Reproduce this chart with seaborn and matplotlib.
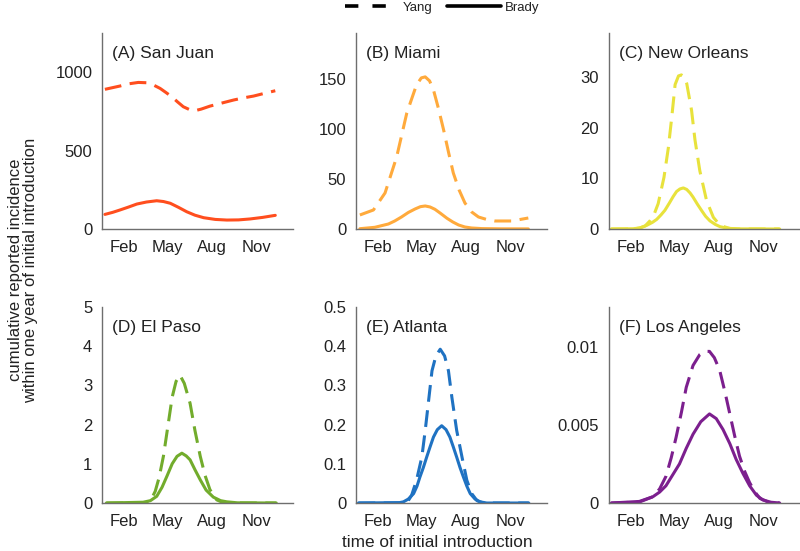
import numpy as np
import pandas as pd
import matplotlib
matplotlib.use("Agg")
import matplotlib.pyplot as plt
from matplotlib.lines import Line2D
import seaborn as sns

# month tick positions (mid-month, day of year) and labels
month_ticks = [46, 135, 227, 319]
month_labels = ["Feb", "May", "Aug", "Nov"]

# (A) San Juan
sj_yang_day = [6, 37, 55, 75, 92, 106, 120, 132, 144, 156, 168, 180, 192, 205, 223,
               248, 272, 293, 313, 335, 358]
sj_yang_val = [890, 911, 925, 934, 932, 918, 896, 870, 843, 810, 779, 762, 754, 764, 783,
               803, 822, 836, 847, 864, 881]
sj_brady_day = [6, 22, 37, 55, 72, 92, 113, 127, 141, 158, 175, 192, 210, 234, 258,
                282, 306, 332, 358]
sj_brady_val = [93, 106, 121, 140, 159, 172, 180, 175, 164, 138, 110, 88, 72, 61, 57,
                58, 64, 74, 87]

# (B) Miami
mi_yang_day = [8, 36, 60, 84, 105, 125, 135, 143, 152, 160, 170, 181, 191, 201, 213,
               225, 239, 253, 270, 287, 322, 356]
mi_yang_val = [14, 19, 36, 72, 116, 144, 151, 152, 148, 139, 121, 99, 77, 56, 39,
               26, 17, 12, 9.5, 8, 8, 11]
mi_brady_day = [8, 39, 67, 80, 94, 108, 122, 133, 143, 153, 163, 175, 188, 200, 212,
                225, 239, 260, 300, 356]
mi_brady_val = [0.3, 1.7, 5, 8, 12, 16.5, 20, 22.3, 23, 22, 19.7, 15.5, 10.7, 7, 4,
                2, 1, 0.4, 0.15, 0.1]

# (C) New Orleans
no_yang_day = [5, 50, 64, 75, 85, 94, 102, 114, 123, 130, 137, 144, 150, 156, 161,
               171, 178, 188, 202, 216, 230, 250, 270, 353]
no_yang_val = [0, 0, 0.2, 0.6, 1.6, 3.0, 5.0, 10.2, 16.0, 22, 28.5, 30.2, 30.4, 30, 28.7,
               23.4, 17.6, 11.5, 5.6, 2.3, 0.7, 0.1, 0, 0]
no_brady_day = [5, 50, 64, 78, 90, 99, 108, 116, 125, 133, 140, 147, 154, 161, 168,
                174, 183, 192, 200, 209, 220, 230, 245, 265, 353]
no_brady_val = [0, 0.05, 0.2, 0.7, 1.3, 1.9, 2.8, 3.7, 5.1, 6.4, 7.4, 7.9, 8.1, 7.8, 7.1,
                6.3, 4.9, 3.6, 2.5, 1.6, 0.9, 0.45, 0.15, 0.03, 0]

# (D) El Paso
ep_yang_day = [9, 92, 100, 110, 118, 127, 136, 145, 153, 161, 170, 182, 192, 203, 213,
               223, 237, 250, 271, 360]
ep_yang_val = [0, 0, 0.05, 0.3, 0.65, 1.2, 1.95, 2.7, 3.1, 3.26, 3.05, 2.54, 1.85, 1.19, 0.7,
               0.34, 0.08, 0.01, 0, 0]
ep_brady_day = [9, 85, 100, 113, 124, 134, 145, 155, 165, 174, 182, 192, 203, 215, 230,
                245, 258, 280, 360]
ep_brady_val = [0, 0.02, 0.06, 0.17, 0.4, 0.68, 1.0, 1.19, 1.27, 1.2, 1.1, 0.85, 0.59, 0.33, 0.15,
                0.06, 0.03, 0.005, 0]

# (E) Atlanta
at_yang_day = [5, 100, 108, 115, 125, 136, 143, 150, 157, 165, 174, 183, 191, 198, 208,
               219, 229, 239, 250, 263, 357]
at_yang_val = [0, 0, 0.006, 0.02, 0.058, 0.117, 0.185, 0.261, 0.337, 0.375, 0.392, 0.375, 0.337,
               0.27, 0.185, 0.117, 0.058, 0.024, 0.006, 0, 0]
at_brady_day = [5, 90, 98, 108, 119, 126, 132, 139, 146, 153, 160, 168, 177, 186, 194,
                201, 208, 215, 222, 229, 236, 246, 256, 270, 357]
at_brady_val = [0, 0.001, 0.003, 0.01, 0.024, 0.043, 0.066, 0.09, 0.117, 0.143, 0.168, 0.187,
                0.197, 0.187, 0.168, 0.143, 0.117, 0.09, 0.066, 0.043, 0.024, 0.01, 0.003, 0, 0]

# (F) Los Angeles
la_yang_day = [5, 63, 91, 105, 118, 129, 139, 150, 160, 174, 188, 198, 208, 218, 229,
               240, 250, 260, 270, 281, 291, 302, 312, 330, 353]
la_yang_val = [0, 0.00006, 0.0004, 0.0009, 0.0017, 0.0029, 0.0042, 0.0058, 0.0074, 0.0088,
               0.0095, 0.0097, 0.0097, 0.0093, 0.0085, 0.0071, 0.0057, 0.0043, 0.003, 0.002,
               0.0013, 0.0007, 0.0003, 0.00005, 0]
la_brady_day = [5, 63, 91, 105, 118, 132, 146, 160, 174, 190, 208, 222, 236, 250, 263,
                277, 291, 305, 318, 335, 353]
la_brady_val = [0, 0.0001, 0.0004, 0.0007, 0.0011, 0.0018, 0.0025, 0.0035, 0.0044, 0.0052,
                0.0057, 0.0054, 0.0047, 0.0038, 0.0028, 0.0019, 0.0011, 0.0005, 0.0002,
                0.00005, 0]

panels = [
    ("(A) San Juan", "#FF4E1E", sj_yang_day, sj_yang_val, sj_brady_day, sj_brady_val,
     1250, [0, 500, 1000], ["0", "500", "1000"]),
    ("(B) Miami", "#FFAA3C", mi_yang_day, mi_yang_val, mi_brady_day, mi_brady_val,
     196, [0, 50, 100, 150], ["0", "50", "100", "150"]),
    ("(C) New Orleans", "#E8E23C", no_yang_day, no_yang_val, no_brady_day, no_brady_val,
     38.7, [0, 10, 20, 30], ["0", "10", "20", "30"]),
    ("(D) El Paso", "#72AC2C", ep_yang_day, ep_yang_val, ep_brady_day, ep_brady_val,
     5, [0, 1, 2, 3, 4, 5], ["0", "1", "2", "3", "4", "5"]),
    ("(E) Atlanta", "#1F72C2", at_yang_day, at_yang_val, at_brady_day, at_brady_val,
     0.5, [0, 0.1, 0.2, 0.3, 0.4, 0.5], ["0", "0.1", "0.2", "0.3", "0.4", "0.5"]),
    ("(F) Los Angeles", "#7C1F8E", la_yang_day, la_yang_val, la_brady_day, la_brady_val,
     0.01255, [0, 0.005, 0.01], ["0", "0.005", "0.01"]),
]

sns.set_theme(style="white")
plt.rcParams["font.family"] = ["Liberation Sans", "DejaVu Sans"]

fig = plt.figure(figsize=(8, 5.51), dpi=100)
lefts = [0.1275, 0.445, 0.761]
bottoms = [0.5844, 0.0871]
w, h = 0.239, 0.356

spine_col = "#6e6e6e"
text_col = "#222222"

for i, (title, col, yd, yv, bd, bv, ytop, yt, ytl) in enumerate(panels):
    ax = fig.add_axes([lefts[i % 3], bottoms[i // 3], w, h])
    df_y = pd.DataFrame({"day": yd, "val": yv})
    df_b = pd.DataFrame({"day": bd, "val": bv})
    sns.lineplot(data=df_y, x="day", y="val", ax=ax, color=col, lw=2.2,
                 linestyle=(0, (5.5, 2.8)))
    sns.lineplot(data=df_b, x="day", y="val", ax=ax, color=col, lw=2.2)
    ax.set_xlim(0, 395)
    ax.set_ylim(0, ytop)
    ax.set_xticks(month_ticks)
    ax.set_xticklabels(month_labels)
    ax.set_yticks(yt)
    ax.set_yticklabels(ytl)
    ax.set_xlabel("")
    ax.set_ylabel("")
    sns.despine(ax=ax)
    for s in ["left", "bottom"]:
        ax.spines[s].set_color(spine_col)
        ax.spines[s].set_linewidth(1.0)
    ax.tick_params(axis="both", direction="in", length=3, width=0.8,
                   color=spine_col, labelcolor=text_col, labelsize=12)
    ax.tick_params(axis="x", pad=8)
    ax.tick_params(axis="y", pad=7)
    ax.text(0.052, 0.897, title, transform=ax.transAxes, fontsize=12.5,
            color=text_col, va="center", ha="left")

# legend at top center
handles = [Line2D([], [], color="black", lw=2.6, linestyle=(0, (3.7, 3.9))),
           Line2D([], [], color="black", lw=2.6)]
fig.legend(handles, ["Yang", "Brady"], loc="center", bbox_to_anchor=(0.553, 0.986),
           ncol=2, frameon=False, fontsize=9.5, handlelength=4.1, columnspacing=1.1,
           handletextpad=0.3, labelcolor=text_col)

fig.text(0.029, 0.51, "cumulative reported incidence\nwithin one year of initial introduction",
         rotation=90, ha="center", va="center", fontsize=12, color=text_col,
         linespacing=1.0)
fig.text(0.547, 0.015, "time of initial introduction", ha="center", va="center",
         fontsize=12.4, color=text_col)

fig.savefig("out.png", dpi=100)
